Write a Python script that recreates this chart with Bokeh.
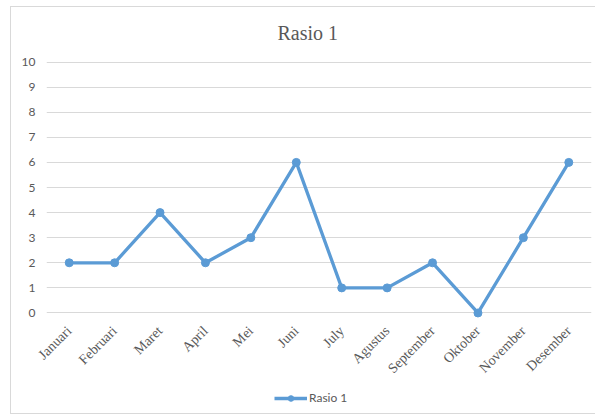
from bokeh.plotting import figure
from bokeh.layouts import column
from bokeh.models import FactorRange, Range1d, FixedTicker, Legend, LegendItem
from bokeh.embed import file_html
from bokeh.resources import INLINE

months = ["Januari", "Februari", "Maret", "April", "Mei", "Juni", "July",
          "Agustus", "September", "Oktober", "November", "Desember"]
values = [2, 2, 4, 2, 3, 6, 1, 1, 2, 0, 3, 6]
series_name = "Rasio 1"
y_ticks = list(range(0, 11))

color = "#5B9BD5"
gray = "#595959"

p = figure(width=584, height=378, x_range=FactorRange(*months, range_padding=0),
           y_range=Range1d(-0.3, 10.3), output_backend="svg", toolbar_location=None,
           title="Rasio 1", min_border_left=35, min_border_right=4,
           min_border_top=47, min_border_bottom=65)

p.title.align = "left"
p.title.offset = 231
p.title.text_font = "Liberation Serif"
p.title.text_font_size = "20px"
p.title.text_font_style = "normal"
p.title.text_color = gray
p.title.standoff = 21

p.outline_line_color = None
p.background_fill_color = "white"
p.border_fill_color = "white"

p.xgrid.grid_line_color = None
p.ygrid.grid_line_color = "#d9d9d9"
p.ygrid.grid_line_width = 1
p.yaxis.ticker = FixedTicker(ticks=y_ticks)

p.yaxis.axis_line_color = None
p.yaxis.major_tick_line_color = None
p.yaxis.minor_tick_line_color = None
p.yaxis.major_tick_out = 0
p.yaxis.major_tick_in = 0
p.yaxis.major_label_text_font = "Lato"
p.yaxis.major_label_text_font_size = "12px"
p.yaxis.major_label_text_color = gray
p.yaxis.major_label_standoff = 11

p.xaxis.axis_line_color = None
p.xaxis.major_tick_line_color = None
p.xaxis.minor_tick_line_color = None
p.xaxis.major_tick_out = 0
p.xaxis.major_tick_in = 0
p.xaxis.major_label_orientation = 0.785398
p.xaxis.major_label_text_font = "Liberation Serif"
p.xaxis.major_label_text_font_size = "14px"
p.xaxis.major_label_text_color = gray
p.xaxis.major_label_standoff = 8

ln = p.line(months, values, line_color=color, line_width=3.3)
pts = p.scatter(months, values, marker="circle", size=8, fill_color=color, line_color=color)

# legend strip below the chart (its own renderers sit outside the visible range)
lg = figure(width=584, height=28, x_range=Range1d(0, 1), y_range=Range1d(0, 1),
            output_backend="svg", toolbar_location=None,
            x_axis_location=None, y_axis_location=None,
            min_border_left=0, min_border_right=0, min_border_top=0, min_border_bottom=0)
lg.grid.visible = False
lg.outline_line_color = None
lln = lg.line(x=[2, 3], y=[2, 2], line_color=color, line_width=3.3)
lpt = lg.scatter(x=[2], y=[2], marker="circle", size=8, fill_color=color, line_color=color)
legend = Legend(items=[LegendItem(label=series_name, renderers=[lln, lpt])],
                location=(228, 8), orientation="horizontal",
                label_text_font="Lato", label_text_font_size="12px",
                label_text_color=gray, glyph_width=33, glyph_height=14,
                label_standoff=2, border_line_color=None, background_fill_alpha=0,
                padding=4, margin=0)
lg.add_layout(legend)

layout = column(p, lg, spacing=0)
layout.styles = {"border": "1px solid #d9d9d9", "margin-left": "10px", "margin-top": "6px"}

open("out.html", "w").write(file_html(layout, INLINE))
